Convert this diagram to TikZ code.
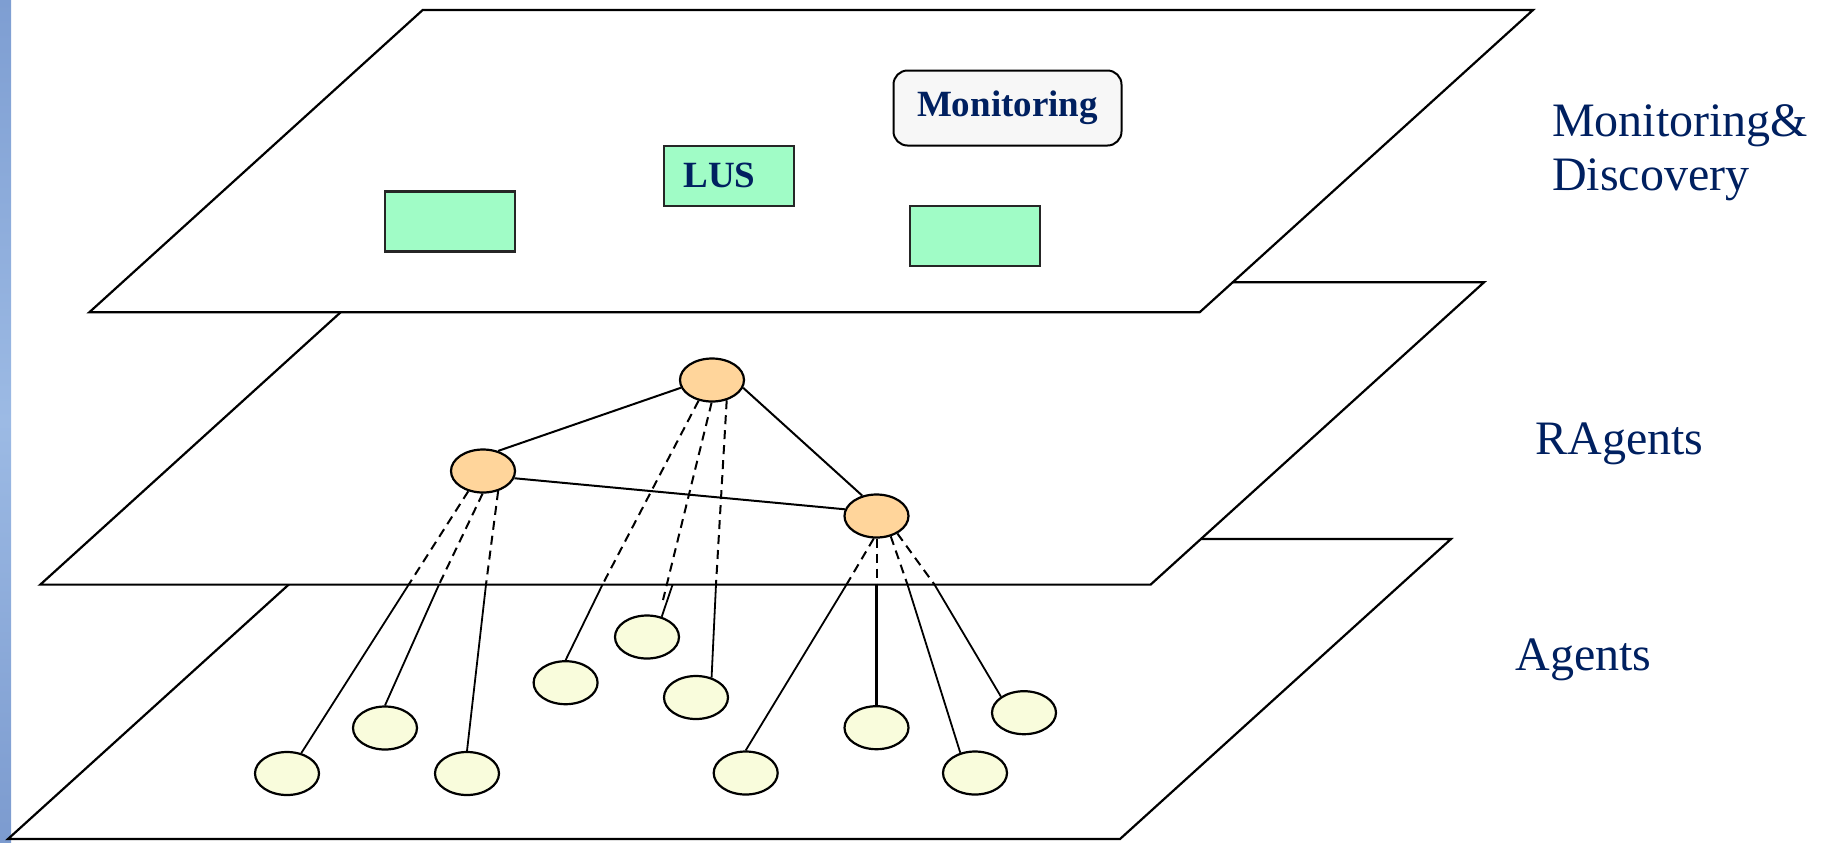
\documentclass[tikz,border=0pt]{standalone}
\usepackage{fontspec}
\setmainfont{Liberation Serif}
\usetikzlibrary{shapes.geometric}
\definecolor{navy}{RGB}{0,32,96}
\definecolor{mint}{RGB}{160,252,198}
\definecolor{peach}{RGB}{255,213,155}
\definecolor{cream}{RGB}{249,252,220}
\definecolor{paleg}{RGB}{247,247,247}
\definecolor{bartop}{RGB}{126,158,210}
\definecolor{barmid}{RGB}{156,186,228}
\definecolor{barbot}{RGB}{124,155,207}
\begin{document}
\begin{tikzpicture}[x=0.5pt,y=-0.5pt,
  plane/.style={draw=black,line width=1.1pt,fill=white,line join=miter},
  cell/.style={draw=black!85,line width=1.1pt,fill=mint,rectangle,
    minimum width=65pt,minimum height=30pt,inner sep=0pt},
  monbox/.style={draw=black,line width=1pt,fill=paleg,rounded corners=7pt,
    minimum width=114pt,minimum height=37.5pt,inner sep=0pt,
    text=navy,font=\bfseries\fontsize{18.5}{20}\selectfont},
  celltext/.style={text=navy,font=\bfseries\fontsize{18.5}{20}\selectfont,inner sep=0pt},
  layertext/.style={text=navy,font=\fontsize{24}{27.2}\selectfont,inner sep=0pt},
  ragent/.style={ellipse,draw=black,line width=1.1pt,fill=peach,
    minimum width=32pt,minimum height=21.5pt,inner sep=0pt},
  agent/.style={ellipse,draw=black,line width=1.1pt,fill=cream,
    minimum width=32pt,minimum height=21.5pt,inner sep=0pt},
  link/.style={draw=black,line width=1pt},
  dashlink/.style={draw=black,line width=1pt,dash pattern=on 4.5pt off 3pt},
  droplink/.style={draw=black,line width=0.9pt},
  heavylink/.style={draw=black,line width=1.7pt}
]
\useasboundingbox (0,0) rectangle (1821,842);

% side bar
\shade[top color=bartop,bottom color=barbot,middle color=barmid] (0,0) rectangle (11,842);

% the three layers, back to front
\draw[plane] (339,539) -- (1451,539) -- (1120,839) -- (8,839) -- cycle;
\draw[plane] (373.7,282.3) -- (1484,282.3) -- (1150.6,584.6) -- (40.3,584.6) -- cycle;
\draw[plane] (422.7,10) -- (1533,10) -- (1199.6,312.3) -- (89.3,312.3) -- cycle;

% monitoring & discovery layer
\node[cell] (c1) at (450.3,221.4) {};
\node[cell] (lus) at (729,176) {};
\node[celltext,anchor=base west] (lustext) at (683,187.7) {LUS};
\node[cell] (c3) at (975,236.2) {};
\node[monbox] (mon) at (1007.5,108) {Monitoring};

% layer names (base of a two-line node sits on its last line)
\node[layertext,anchor=base west,align=left] (mdlabel) at (1551.7,190.6) {Monitoring\&\\Discovery};
\node[layertext,anchor=base west] (ralabel) at (1535,454) {RAgents};
\node[layertext,anchor=base west] (aglabel) at (1515,670) {Agents};

% RAgents
\node[ragent] (T) at (712,380) {};
\node[ragent] (L) at (483,471) {};
\node[ragent] (R) at (876.5,516) {};

% Agents
\node[agent] (e1) at (287,773.5) {};
\node[agent] (e2) at (385,728) {};
\node[agent] (e3) at (467,773.5) {};
\node[agent] (e4) at (565.6,682.7) {};
\node[agent] (e5) at (647,637) {};
\node[agent] (e6) at (696,697.5) {};
\node[agent] (e7) at (745.7,773) {};
\node[agent] (e8) at (876.5,727.7) {};
\node[agent] (e9) at (975,773) {};
\node[agent] (e10) at (1024,712.7) {};

% links among RAgents
\draw[link] (T.194) -- (L.53);
\draw[link] (T.346) -- (R.125);
\draw[link] (L.347) -- (R.168);

% points where the links leave the RAgents layer
\coordinate (xa) at (408.7,584.6);
\coordinate (xb) at (439,584.6);
\coordinate (xc) at (486,584.6);
\coordinate (xd) at (602.5,584.6);
\coordinate (xe) at (672.6,584.6);
\coordinate (ye) at (663,600);
\coordinate (xf) at (716,584.6);
\coordinate (xg) at (846.5,584.6);
\coordinate (xh) at (876.5,584.6);
\coordinate (xi) at (907.5,584.6);
\coordinate (xj) at (934.5,584.6);

% links from RAgents down to Agents
\draw[dashlink] (L.234) -- (xa);  \draw[droplink] (xa) -- (e1.55);
\draw[dashlink] (L.269) -- (xb);  \draw[droplink] (xb) -- (e2.90);
\draw[dashlink] (L.307) -- (xc);  \draw[droplink] (xc) -- (e3.90);
\draw[dashlink] (T.237) -- (xd);  \draw[droplink] (xd) -- (e4.90);
\draw[dashlink] (T.269) -- (ye);  \draw[droplink] (xe) -- (e5.54);
\draw[dashlink] (T.306) -- (xf);  \draw[droplink] (xf) -- (e6.52);
\draw[dashlink] (R.263) -- (xg);  \draw[droplink] (xg) -- (e7.90);
\draw[dashlink] (R.270) -- (xh);  \draw[heavylink] (xh) -- (e8.90);
\draw[dashlink] (R.305) -- (xi);  \draw[droplink] (xi) -- (e9.126);
\draw[dashlink] (R.320) -- (xj);  \draw[droplink] (xj) -- (e10.145);
\end{tikzpicture}
\end{document}
